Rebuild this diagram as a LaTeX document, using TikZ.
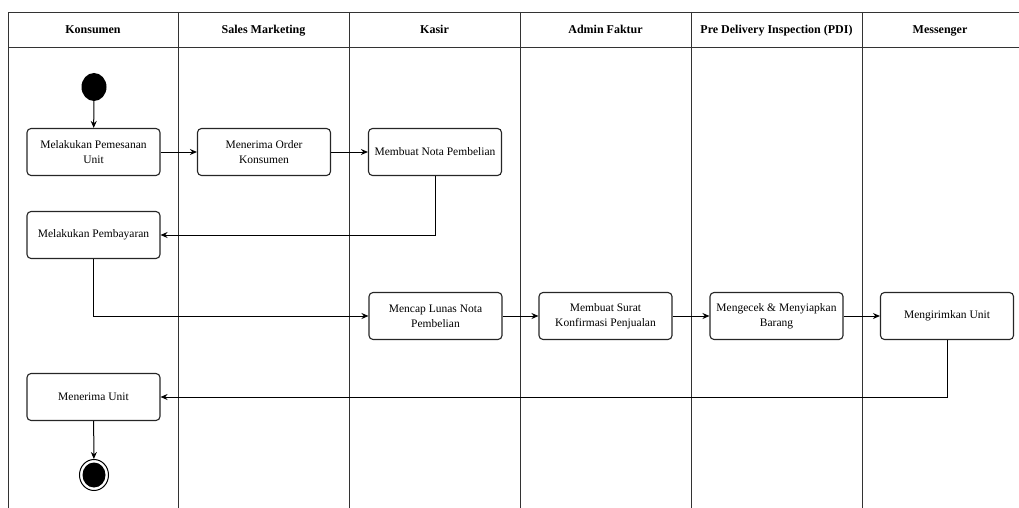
\documentclass[tikz,border=0pt]{standalone}
\usepackage{fontspec}
\setmainfont{Liberation Serif}
\usetikzlibrary{arrows.meta,shapes.geometric}
\begin{document}
\begin{tikzpicture}[x=1pt,y=-1pt,
  lane/.style={line width=0.9pt,draw=black!80},
  act/.style={draw=black!85,line width=1.1pt,rounded corners=4pt,minimum width=133pt,minimum height=47pt,align=center,font=\fontsize{11.5}{15}\selectfont,inner sep=1pt},
  hdr/.style={font=\fontsize{12}{14}\selectfont\bfseries,anchor=base},
  flow/.style={line width=1pt,-{Stealth[length=7pt,width=6pt]}}]
\useasboundingbox (0,0) rectangle (1019,508);
% swimlanes
\draw[lane] (1019,12) -- (8,12) -- (8,508);
\draw[lane] (8,47) -- (1019,47);
\foreach \x in {178,349,520,691,862} \draw[lane] (\x,12) -- (\x,508);
\node[hdr] (h1) at (93,34) {Konsumen};
\node[hdr] (h2) at (263.5,34) {Sales Marketing};
\node[hdr] (h3) at (434.5,34) {Kasir};
\node[hdr] (h4) at (605.5,34) {Admin Faktur};
\node[hdr] (h5) at (776.5,34) {Pre Delivery Inspection (PDI)};
\node[hdr] (h6) at (940,34) {Messenger};
% start
\node[ellipse,fill=black,minimum width=25pt,minimum height=28pt,inner sep=0pt] (start) at (94,87) {};
% activities
\node[act] (a1) at (93.5,152) {Melakukan Pemesanan\\Unit};
\node[act] (a2) at (264,152) {Menerima Order\\Konsumen};
\node[act] (a3) at (435,152) {Membuat Nota Pembelian};
\node[act] (a4) at (93.5,235) {Melakukan Pembayaran};
\node[act] (a5) at (435.5,316) {Mencap Lunas Nota\\Pembelian};
\node[act] (a6) at (605.5,316) {Membuat Surat\\Konfirmasi Penjualan};
\node[act] (a7) at (776.5,316) {Mengecek \& Menyiapkan\\Barang};
\node[act] (a8) at (947,316) {Mengirimkan Unit};
\node[act] (a9) at (93.5,397) {Menerima Unit};
% end
\node[ellipse,draw=black,line width=1pt,fill=white,minimum width=29pt,minimum height=31pt,inner sep=0pt] (endo) at (94,475) {};
\node[ellipse,fill=black,minimum width=23pt,minimum height=25pt,inner sep=0pt] (endi) at (94,475) {};
% flows
\draw[flow] (start) -- (a1);
\draw[flow] (a1) -- (a2);
\draw[flow] (a2) -- (a3);
\draw[flow] (a3.south) |- (a4.east);
\draw[flow] (a4.south) |- (a5.west);
\draw[flow] (a5) -- (a6);
\draw[flow] (a6) -- (a7);
\draw[flow] (a7) -- (a8);
\draw[flow] (a8.south) |- (a9.east);
\draw[flow] (a9) -- (endo);
\end{tikzpicture}
\end{document}
